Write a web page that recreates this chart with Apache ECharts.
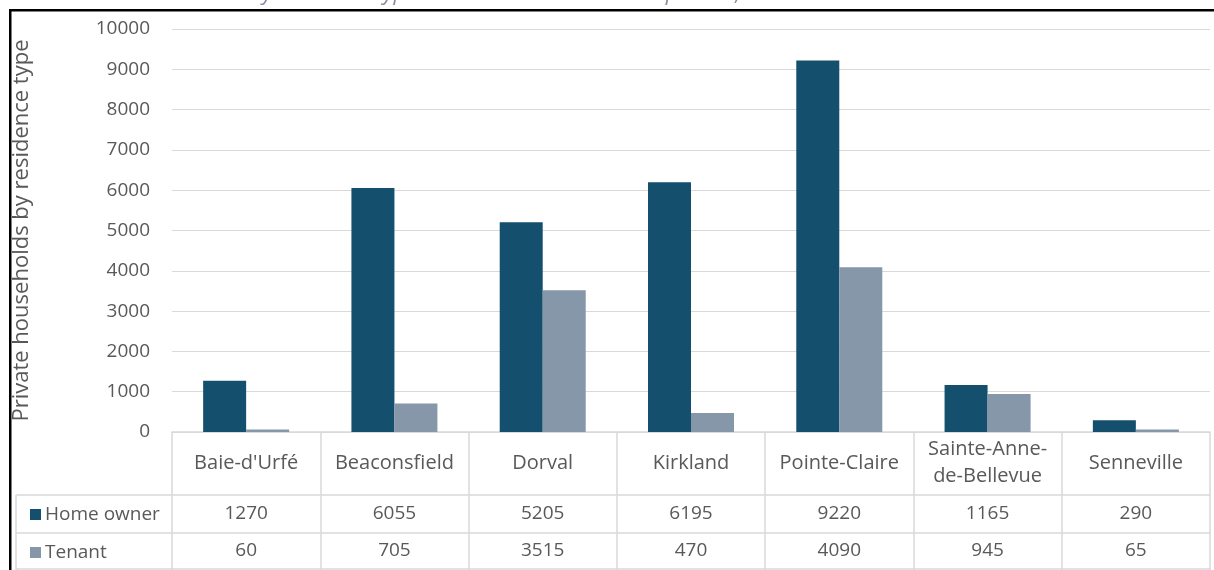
<!DOCTYPE html>
<html>
<head>
<meta charset="utf-8">
<script src="https://cdn.jsdelivr.net/npm/echarts@6/dist/echarts.min.js"></script>
<style>
html,body{margin:0;padding:0;background:#fff;}
#chart{width:1214px;height:570px;}
</style>
</head>
<body>
<div id="chart"></div>
<script>
const categories = ["Baie-d'Urfé", "Beaconsfield", "Dorval", "Kirkland", "Pointe-Claire", "Sainte-Anne-\nde-Bellevue", "Senneville"];
const homeOwner = [1270, 6055, 5205, 6195, 9220, 1165, 290];
const tenant = [60, 705, 3515, 470, 4090, 945, 65];
const seriesNames = ["Home owner", "Tenant"];
const yTicks = { min: 0, max: 10000, interval: 1000 };
const yAxisTitle = "Private households by residence type";
const chartTitle = "Private households by residence type in the West Island municipalities, 2016";

const FONT = "'Open Sans', sans-serif";
const TXT = "#595959";
const LINE = "#d9d9d9";
const COLORS = ["#144f6d", "#8597a9"];
const G = { left: 172, right: 4, top: 29, bottom: 138 };
const W = 1214, H = 570;
const rowTop1 = H - G.bottom + 63;   // home owner row top
const rowTop2 = rowTop1 + 38;        // tenant row top
const legendLeft = 16;

const chart = echarts.init(document.getElementById('chart'), null, { renderer: 'canvas' });

const lbl = { fontFamily: FONT, fontSize: 19, color: TXT };

chart.setOption({
  animation: false,
  backgroundColor: '#fff',
  grid: { left: G.left, right: G.right, top: G.top, bottom: G.bottom, containLabel: false, outerBoundsMode: 'none' },
  legend: [
    { data: [seriesNames[0]], left: legendLeft + 9, top: rowTop1 + 5, icon: 'rect', itemWidth: 11, itemHeight: 11, itemGap: 0,
      textStyle: Object.assign({}, lbl, { padding: [0, 0, 0, -1] }) },
    { data: [seriesNames[1]], left: legendLeft + 9, top: rowTop2 + 5, icon: 'rect', itemWidth: 11, itemHeight: 11, itemGap: 0,
      textStyle: Object.assign({}, lbl, { padding: [0, 0, 0, -1] }) }
  ],
  xAxis: [
    { type: 'category', data: categories, gridIndex: 0, position: 'bottom',
      axisLine: { show: true, lineStyle: { color: LINE, width: 1.5 } },
      axisTick: { show: true, length: G.bottom, lineStyle: { color: LINE, width: 1.5 } },
      axisLabel: Object.assign({}, lbl, { fontSize: 20, margin: 31, verticalAlign: 'middle', lineHeight: 27, interval: 0 }) },
    { type: 'category', data: categories, gridIndex: 0, position: 'bottom', offset: 63,
      axisLine: { show: true, lineStyle: { color: LINE, width: 1.5 } },
      axisTick: { show: false },
      axisLabel: Object.assign({}, lbl, { margin: 19, verticalAlign: 'middle', interval: 0,
        formatter: (v, i) => String(homeOwner[i]) }) },
    { type: 'category', data: categories, gridIndex: 0, position: 'bottom', offset: 101,
      axisLine: { show: true, lineStyle: { color: LINE, width: 1.5 } },
      axisTick: { show: false },
      axisLabel: Object.assign({}, lbl, { margin: 18, verticalAlign: 'middle', interval: 0,
        formatter: (v, i) => String(tenant[i]) }) },
    { type: 'category', data: categories, gridIndex: 0, position: 'bottom', offset: 137,
      axisLine: { show: true, lineStyle: { color: LINE, width: 1.5 } },
      axisTick: { show: false }, axisLabel: { show: false } }
  ],
  yAxis: {
    type: 'value', min: yTicks.min, max: yTicks.max, interval: yTicks.interval,
    axisLine: { show: false }, axisTick: { show: false },
    splitLine: { lineStyle: { color: LINE, width: 1.2 } },
    axisLabel: Object.assign({}, lbl, { margin: 22, formatter: v => String(v) }),
    name: yAxisTitle, nameLocation: 'middle', nameRotate: 90, nameGap: 139,
    nameTextStyle: { fontFamily: FONT, fontSize: 22, color: TXT }
  },
  series: [
    { name: seriesNames[0], type: 'bar', xAxisIndex: 0, data: homeOwner, barGap: '0%', barCategoryGap: '42%',
      itemStyle: { color: COLORS[0] } },
    { name: seriesNames[1], type: 'bar', xAxisIndex: 0, data: tenant, barGap: '0%', barCategoryGap: '42%',
      itemStyle: { color: COLORS[1] } }
  ],
  graphic: [
    { type: 'line', shape: { x1: legendLeft, y1: rowTop1, x2: G.left, y2: rowTop1 }, style: { stroke: LINE, lineWidth: 1.5 } },
    { type: 'line', shape: { x1: legendLeft, y1: rowTop2, x2: G.left, y2: rowTop2 }, style: { stroke: LINE, lineWidth: 1.5 } },
    { type: 'line', shape: { x1: legendLeft, y1: H - 1, x2: G.left, y2: H - 1 }, style: { stroke: LINE, lineWidth: 1.5 } },
    { type: 'line', shape: { x1: legendLeft, y1: rowTop1, x2: legendLeft, y2: H }, style: { stroke: LINE, lineWidth: 1.5 } },
    { type: 'text', left: 60, top: -17, style: { text: chartTitle, font: "italic 22px " + FONT, fill: '#4a3560', opacity: 0.6 } },
    { type: 'rect', shape: { x: 9, y: 9, width: W, height: 2.5 }, style: { fill: '#000' } },
    { type: 'rect', shape: { x: 9, y: 9, width: 2.5, height: H }, style: { fill: '#000' } }
  ]
});
</script>
</body>
</html>
